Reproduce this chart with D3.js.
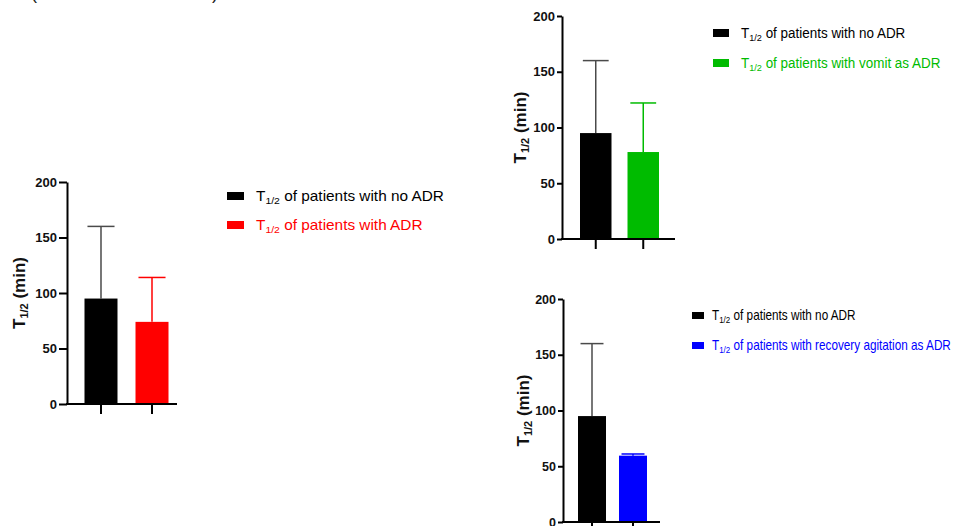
<!DOCTYPE html>
<html>
<head>
<meta charset="utf-8">
<script src="https://cdn.jsdelivr.net/npm/d3@7"></script>
<style>
  html, body { margin: 0; padding: 0; background: #fff; }
  svg { display: block; }
</style>
</head>
<body>
<svg id="chart" width="957" height="526"></svg>
<script>
// Half-life (T1/2, min) of patients without ADR vs. patients with ADR subgroups
const panelIds = ["allAdr", "vomit", "agitation"];
const groupNames = ["noADR", "ADR"];
const noAdrMean = 95;
const noAdrSD = 65;
const adrMeans = [74, 78, 59.5];
const adrSD = [40, 44, 1.5];
const adrColors = ["#ff0000", "#00bb00", "#0000ff"];
const yTicks = [0, 50, 100, 150, 200];
const noAdrLabel = " of patients with no ADR";
const adrLabels = [
  " of patients with ADR",
  " of patients with vomit as ADR",
  " of patients with recovery agitation as ADR"
];

const sansFamily = "'Liberation Sans', Arial, Helvetica, sans-serif";

// Panel geometry
const layout = [
  { x0: 67,  yTop: 182, yBottom: 404, rangeEnd: 186, axisEnd: 177, pi: 0.353, po: 0.343, labelX: 25, tickLen: 8,
    tickFont: "13px", legend: { sx: 227, sw: 17, sh: 8, tx: 256, rows: [201, 230], size: 14.5, scaleX: 1.06 } },
  { x0: 562, yTop: 16,  yBottom: 239, rangeEnd: 677, axisEnd: 675, pi: 0.337, po: 0.379, labelX: 526, tickLen: 5,
    tickFont: "13px", legend: { sx: 713, sw: 16, sh: 8, tx: 741, rows: [38, 68], size: 14, scaleX: 0.96 } },
  { x0: 563, yTop: 299, yBottom: 522, rangeEnd: 662, axisEnd: 660, pi: 0.317, po: 0.366, labelX: 529, tickLen: 5,
    tickFont: "12.5px", legend: { sx: 692, sw: 12, sh: 7, tx: 712, rows: [320, 350], size: 14, scaleX: 0.84 } }
];

const svg = d3.select("#chart");

// Clipped heading above the panels
svg.append("text").attr("x", 31).attr("y", -1)
  .attr("font-family", sansFamily).attr("font-size", 18).attr("fill", "#222").text("(");
svg.append("text").attr("x", 212).attr("y", -1)
  .attr("font-family", sansFamily).attr("font-size", 18).attr("fill", "#222").text(")");

panelIds.forEach((id, i) => {
  const L = layout[i];
  const g = svg.append("g").attr("class", "panel " + id);

  const x = d3.scaleBand().domain(groupNames)
    .range([L.x0, L.rangeEnd]).paddingInner(L.pi).paddingOuter(L.po);
  const y = d3.scaleLinear().domain([0, 200]).range([L.yBottom, L.yTop]);

  const means = [noAdrMean, adrMeans[i]];
  const sds = [noAdrSD, adrSD[i]];
  const fills = ["#000000", adrColors[i]];
  const errColors = ["#4a4a4a", adrColors[i]];
  const rows = groupNames.map((name, k) => ({ name, mean: means[k], sd: sds[k], fill: fills[k], err: errColors[k] }));

  // Error bars (upper SD only)
  const capW = x.bandwidth() * 0.82;
  const eb = g.selectAll(".err").data(rows).join("g").attr("class", "err");
  eb.append("line")
    .attr("x1", d => x(d.name) + x.bandwidth() / 2)
    .attr("x2", d => x(d.name) + x.bandwidth() / 2)
    .attr("y1", d => y(d.mean))
    .attr("y2", d => y(d.mean + d.sd))
    .attr("stroke", d => d.err).attr("stroke-width", 1.5);
  eb.append("line")
    .attr("x1", d => x(d.name) + x.bandwidth() / 2 - capW / 2)
    .attr("x2", d => x(d.name) + x.bandwidth() / 2 + capW / 2)
    .attr("y1", d => y(d.mean + d.sd))
    .attr("y2", d => y(d.mean + d.sd))
    .attr("stroke", d => d.err).attr("stroke-width", 1.5);

  // Bars
  g.selectAll(".bar").data(rows).join("rect").attr("class", "bar")
    .attr("x", d => x(d.name))
    .attr("width", x.bandwidth())
    .attr("y", d => y(d.mean))
    .attr("height", d => y(0) - y(d.mean))
    .attr("fill", d => d.fill);

  // Y axis
  const yAxis = g.append("g").attr("transform", `translate(${L.x0},0)`)
    .call(d3.axisLeft(y).tickValues(yTicks).tickSize(L.tickLen).tickSizeOuter(0).tickPadding(2));
  yAxis.select(".domain").attr("stroke-width", 2);
  yAxis.selectAll(".tick line").attr("stroke-width", 2);
  yAxis.selectAll(".tick text")
    .attr("font-family", sansFamily).attr("font-weight", "bold")
    .attr("font-size", L.tickFont).attr("fill", "#111");

  // X axis (tick marks only)
  const xAxis = g.append("g").attr("transform", `translate(0,${L.yBottom})`)
    .call(d3.axisBottom(x).tickSize(10).tickSizeOuter(0).tickFormat(""));
  xAxis.select(".domain").remove();
  xAxis.selectAll(".tick line").attr("stroke-width", 2);
  xAxis.append("line").attr("x1", L.x0 - 1).attr("x2", L.axisEnd)
    .attr("stroke", "#000").attr("stroke-width", 2);

  // Y axis title: T1/2 (min)
  const yMid = (L.yTop + L.yBottom) / 2;
  const title = g.append("text")
    .attr("transform", `translate(${L.labelX},${yMid}) rotate(-90)`)
    .attr("text-anchor", "middle")
    .attr("font-family", sansFamily).attr("font-weight", "bold")
    .attr("font-size", 17).attr("fill", "#111");
  title.append("tspan").text("T");
  title.append("tspan").attr("font-size", 11).attr("dy", 3).text("1/2");
  title.append("tspan").attr("dy", -3).text(" (min)");

  // Legend
  const lg = L.legend;
  const legendRows = [
    { label: noAdrLabel, color: "#000000" },
    { label: adrLabels[i], color: adrColors[i] }
  ];
  legendRows.forEach((r, k) => {
    const base = lg.rows[k];
    g.append("rect").attr("x", lg.sx).attr("y", base - lg.sh - 1)
      .attr("width", lg.sw).attr("height", lg.sh).attr("fill", r.color);
    const t = g.append("text")
      .attr("transform", `translate(${lg.tx},${base}) scale(${lg.scaleX},1)`)
      .attr("font-family", sansFamily).attr("font-size", lg.size).attr("fill", r.color);
    t.append("tspan").text("T");
    t.append("tspan").attr("font-size", lg.size * 0.68).attr("dy", 3).text("1/2");
    t.append("tspan").attr("dy", -3).text(r.label);
  });
});
</script>
</body>
</html>
